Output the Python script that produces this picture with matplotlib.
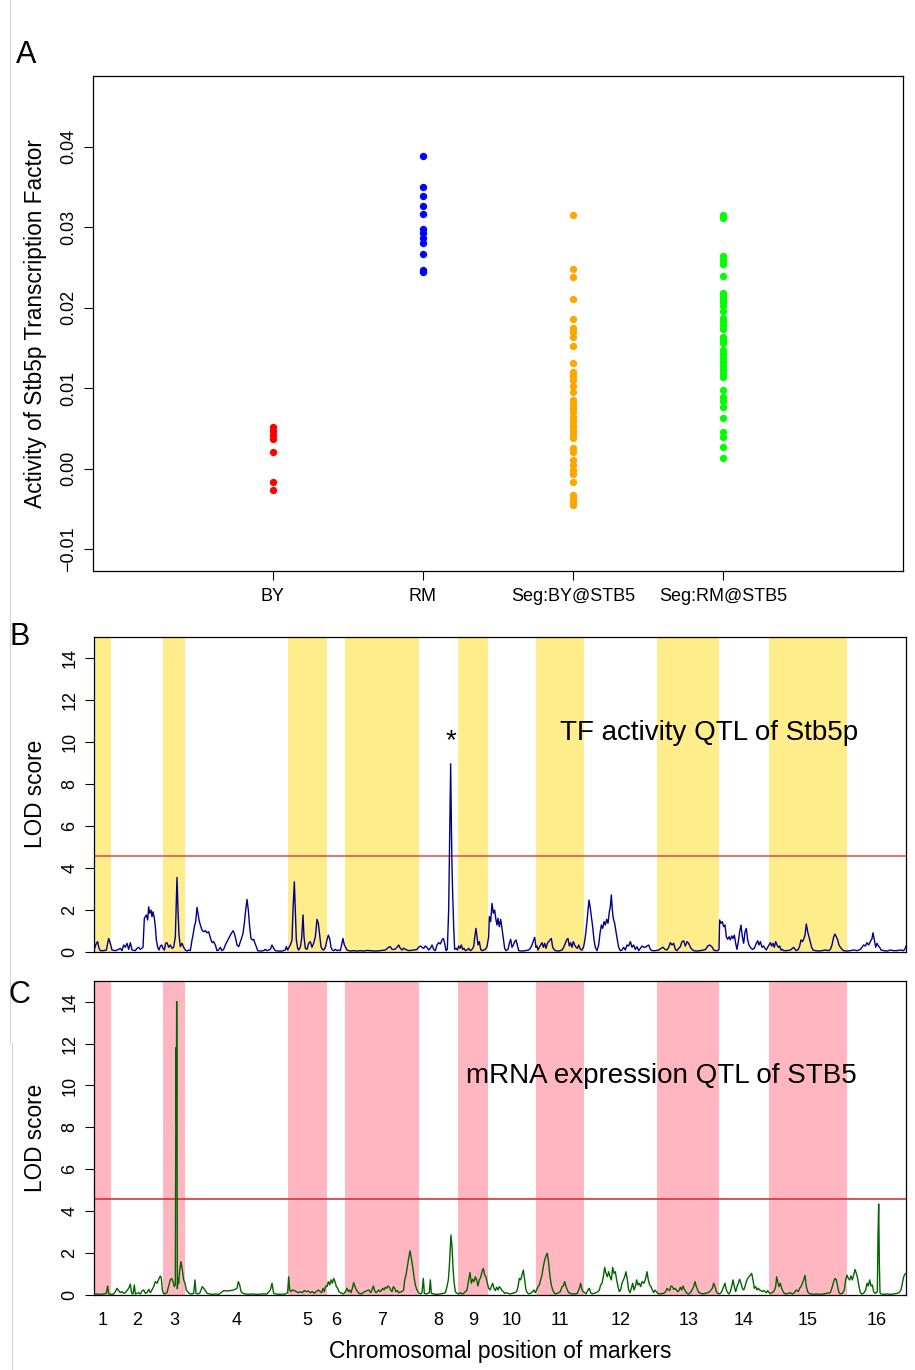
import numpy as np
import matplotlib.pyplot as plt
from matplotlib.lines import Line2D

plt.rcParams["font.family"] = ["Liberation Sans", "DejaVu Sans"]

# ---- panel A: activity of Stb5p per strain group ----
groups = ["BY", "RM", "Seg:BY@STB5", "Seg:RM@STB5"]
group_colors = ["#ff0000", "#0000ff", "#ffa500", "#00ff00"]

act_by = [0.0052, 0.0047, 0.0042, 0.0037, 0.0021, -0.0017, -0.0026]
act_rm = [0.0388, 0.0350, 0.0339, 0.0326, 0.0316, 0.0298, 0.0293, 0.0287,
          0.0280, 0.0267, 0.0247, 0.0244]
act_seg_by = [0.0315, 0.0248, 0.0238, 0.0211, 0.0186, 0.0175, 0.0170, 0.0164,
              0.0153, 0.0132, 0.0120, 0.0115, 0.0110, 0.0103, 0.0095, 0.0086,
              0.0081, 0.0075, 0.0070, 0.0064, 0.0059, 0.0053, 0.0048, 0.0043,
              0.0038, 0.0026, 0.0021, 0.0011, 0.0005, -0.0001, -0.0007, -0.0017,
              -0.0032, -0.0037, -0.0041, -0.0045]
act_seg_rm = [0.0315, 0.0311, 0.0264, 0.0259, 0.0255, 0.0240, 0.0219, 0.0215,
              0.0211, 0.0207, 0.0202, 0.0196, 0.0187, 0.0183, 0.0179, 0.0174,
              0.0164, 0.0160, 0.0156, 0.0148, 0.0143, 0.0138, 0.0133, 0.0128,
              0.0123, 0.0118, 0.0114, 0.0098, 0.0089, 0.0084, 0.0077, 0.0063,
              0.0046, 0.0040, 0.0027, 0.0014]
activity = [act_by, act_rm, act_seg_by, act_seg_rm]
act_ticks = [-0.01, 0.0, 0.01, 0.02, 0.03, 0.04]
act_ticklabels = ["\u22120.01", "0.00", "0.01", "0.02", "0.03", "0.04"]

# ---- panels B/C: genome scans (marker index, LOD) ----
chrom_sizes = [51, 157, 65, 310, 116, 55, 222, 115, 91, 145, 142, 221, 186, 148, 235, 177]
lod_threshold = 4.57

tf_qtl = [
    (1, 0.11), (7, 0.40), (11, 0.48), (15, 0.16), (19, 0.05), (29, 0.05), (37, 0.08), (44, 0.63),
    (49, 0.40), (54, 0.08), (64, 0.05), (74, 0.11), (79, 0.16), (84, 0.05), (89, 0.32), (94, 0.21),
    (99, 0.40), (104, 0.11), (109, 0.43), (114, 0.08), (124, 0.05), (129, 0.16), (134, 0.21),
    (139, 0.11), (147, 0.21), (151, 1.59), (157, 1.75), (161, 1.51), (164, 2.14), (167, 1.83),
    (171, 1.98), (174, 1.67), (177, 1.90), (181, 1.59), (184, 1.19), (187, 0.56), (191, 0.21),
    (195, 0.08), (199, 0.27), (203, 0.32), (207, 0.16), (211, 0.08), (215, 0.40), (219, 0.43),
    (224, 0.21), (229, 0.32), (234, 0.16), (239, 0.21), (244, 0.71), (247, 2.46), (249, 3.54),
    (252, 1.98), (255, 0.79), (259, 0.24), (264, 0.40), (269, 0.21), (274, 0.08), (279, 0.03),
    (284, 0.08), (289, 0.05), (294, 0.56), (297, 0.79), (301, 1.19), (305, 1.43), (309, 2.11),
    (312, 1.83), (315, 1.51), (319, 1.27), (324, 1.03), (329, 0.95), (334, 1.00), (339, 0.90),
    (344, 0.95), (347, 0.79), (351, 0.56), (355, 0.43), (359, 0.48), (364, 0.32), (369, 0.05),
    (374, 0.08), (379, 0.21), (384, 0.05), (389, 0.11), (394, 0.32), (399, 0.48), (404, 0.63),
    (409, 0.79), (417, 1.00), (421, 0.87), (425, 0.63), (429, 0.32), (434, 0.24), (441, 0.56),
    (447, 0.87), (451, 1.35), (455, 1.98), (459, 2.49), (463, 1.98), (467, 1.19), (471, 0.63),
    (475, 0.56), (479, 0.59), (483, 0.40), (487, 0.24), (491, 0.05), (499, 0.03), (509, 0.05),
    (514, 0.11), (519, 0.05), (529, 0.11), (534, 0.32), (539, 0.16), (544, 0.05), (554, 0.03),
    (564, 0.03), (574, 0.08), (577, 0.24), (581, 0.08), (585, 0.21), (589, 0.32), (594, 0.56),
    (597, 1.98), (601, 3.33), (604, 1.98), (607, 0.56), (611, 0.16), (614, 0.08), (619, 0.21),
    (623, 0.63), (627, 1.75), (630, 0.71), (634, 0.16), (639, 0.11), (644, 0.40), (649, 0.48),
    (654, 0.21), (659, 0.40), (664, 0.71), (669, 1.54), (673, 1.35), (677, 0.79), (681, 0.24),
    (685, 0.11), (689, 0.08), (694, 0.21), (699, 0.56), (703, 0.79), (707, 0.63), (711, 0.21),
    (715, 0.08), (719, 0.05), (724, 0.11), (729, 0.05), (734, 0.08), (739, 0.05), (744, 0.40),
    (747, 0.63), (751, 0.32), (755, 0.21), (759, 0.08), (769, 0.03), (779, 0.05), (789, 0.03),
    (799, 0.05), (809, 0.03), (819, 0.06), (829, 0.05), (844, 0.03), (859, 0.05), (874, 0.08),
    (884, 0.21), (889, 0.24), (894, 0.11), (902, 0.11), (909, 0.21), (914, 0.32), (919, 0.16),
    (924, 0.08), (929, 0.17), (934, 0.11), (944, 0.05), (959, 0.08), (969, 0.11), (974, 0.21),
    (979, 0.27), (984, 0.21), (989, 0.16), (994, 0.27), (999, 0.21), (1004, 0.08), (1009, 0.16),
    (1014, 0.32), (1019, 0.11), (1024, 0.05), (1029, 0.32), (1034, 0.43), (1039, 0.37),
    (1044, 0.56), (1048, 0.63), (1052, 0.40), (1056, 0.05), (1060, 0.11), (1064, 1.98),
    (1067, 5.60), (1070, 8.95), (1072, 6.20), (1074, 4.00), (1076, 2.78), (1079, 1.19),
    (1082, 0.11), (1086, 0.16), (1090, 0.08), (1094, 0.27), (1098, 0.16), (1102, 0.32),
    (1106, 0.11), (1110, 0.16), (1114, 0.05), (1119, 0.08), (1124, 0.16), (1129, 0.05),
    (1134, 0.11), (1139, 0.24), (1143, 0.79), (1146, 1.11), (1149, 0.71), (1152, 0.32),
    (1156, 0.48), (1160, 0.11), (1164, 0.05), (1169, 0.08), (1174, 0.11), (1179, 0.24),
    (1184, 0.71), (1186, 1.67), (1190, 1.43), (1194, 2.30), (1198, 1.83), (1202, 1.98),
    (1206, 1.51), (1209, 1.27), (1212, 1.59), (1216, 1.19), (1220, 1.54), (1224, 1.11),
    (1228, 0.63), (1232, 0.16), (1236, 0.05), (1242, 0.11), (1246, 0.40), (1250, 0.59),
    (1254, 0.21), (1258, 0.32), (1262, 0.48), (1266, 0.56), (1270, 0.32), (1274, 0.05),
    (1284, 0.03), (1294, 0.05), (1304, 0.08), (1309, 0.16), (1314, 0.32), (1319, 0.56),
    (1322, 0.68), (1326, 0.21), (1329, 0.27), (1332, 0.08), (1336, 0.21), (1340, 0.32),
    (1344, 0.43), (1348, 0.21), (1352, 0.40), (1356, 0.16), (1360, 0.40), (1364, 0.48),
    (1368, 0.56), (1372, 0.63), (1376, 0.21), (1380, 0.11), (1384, 0.05), (1394, 0.03),
    (1404, 0.08), (1409, 0.21), (1414, 0.40), (1418, 0.56), (1422, 0.63), (1426, 0.27),
    (1430, 0.43), (1434, 0.21), (1438, 0.48), (1442, 0.32), (1446, 0.21), (1450, 0.16),
    (1454, 0.32), (1459, 0.11), (1464, 0.08), (1469, 0.24), (1474, 0.71), (1479, 1.43),
    (1482, 1.98), (1485, 2.46), (1489, 2.06), (1492, 1.67), (1496, 1.19), (1500, 0.56),
    (1504, 0.21), (1509, 0.05), (1514, 0.32), (1518, 0.87), (1522, 1.27), (1526, 1.11),
    (1530, 1.43), (1534, 1.27), (1538, 1.54), (1542, 1.35), (1546, 1.90), (1549, 2.14),
    (1552, 2.70), (1555, 1.98), (1558, 1.59), (1562, 1.35), (1566, 0.95), (1570, 0.56),
    (1574, 0.21), (1579, 0.05), (1584, 0.08), (1589, 0.21), (1594, 0.08), (1599, 0.32),
    (1604, 0.27), (1609, 0.48), (1614, 0.21), (1619, 0.32), (1624, 0.11), (1629, 0.24),
    (1634, 0.05), (1639, 0.16), (1644, 0.27), (1650, 0.21), (1654, 0.21), (1659, 0.27),
    (1664, 0.32), (1669, 0.11), (1674, 0.05), (1684, 0.05), (1694, 0.08), (1701, 0.16),
    (1707, 0.21), (1713, 0.11), (1719, 0.08), (1724, 0.21), (1729, 0.43), (1734, 0.32),
    (1739, 0.40), (1744, 0.11), (1749, 0.05), (1754, 0.16), (1759, 0.24), (1764, 0.48),
    (1769, 0.52), (1774, 0.27), (1779, 0.48), (1784, 0.40), (1789, 0.21), (1794, 0.11),
    (1799, 0.05), (1809, 0.03), (1819, 0.05), (1829, 0.08), (1835, 0.11), (1841, 0.27),
    (1847, 0.32), (1851, 0.27), (1855, 0.21), (1859, 0.08), (1864, 0.05), (1871, 0.05),
    (1875, 0.11), (1877, 1.51), (1881, 1.35), (1885, 1.43), (1889, 1.19), (1893, 1.27),
    (1897, 0.71), (1901, 0.59), (1905, 0.71), (1909, 0.56), (1913, 0.75), (1917, 0.63),
    (1921, 0.79), (1925, 0.40), (1929, 0.11), (1933, 0.48), (1937, 0.95), (1941, 1.27),
    (1945, 0.71), (1949, 0.40), (1953, 0.95), (1957, 1.11), (1961, 0.56), (1965, 0.32),
    (1969, 0.21), (1975, 0.11), (1981, 0.16), (1987, 0.40), (1991, 0.52), (1995, 0.32),
    (1999, 0.48), (2004, 0.21), (2009, 0.27), (2013, 0.16), (2017, 0.08), (2021, 0.21),
    (2025, 0.32), (2029, 0.43), (2033, 0.27), (2037, 0.40), (2041, 0.21), (2045, 0.48),
    (2049, 0.32), (2053, 0.21), (2057, 0.27), (2061, 0.08), (2065, 0.11), (2069, 0.05),
    (2079, 0.05), (2089, 0.08), (2095, 0.16), (2099, 0.21), (2103, 0.11), (2107, 0.05),
    (2113, 0.11), (2117, 0.27), (2121, 0.56), (2125, 0.48), (2129, 0.59), (2133, 0.79),
    (2137, 1.32), (2141, 0.95), (2145, 0.71), (2149, 0.48), (2153, 0.21), (2157, 0.08),
    (2164, 0.05), (2174, 0.03), (2184, 0.05), (2194, 0.08), (2204, 0.05), (2209, 0.11),
    (2214, 0.32), (2219, 0.71), (2223, 0.84), (2227, 0.71), (2231, 0.56), (2235, 0.32),
    (2239, 0.21), (2244, 0.11), (2249, 0.05), (2259, 0.03), (2269, 0.05), (2279, 0.08),
    (2289, 0.05), (2299, 0.11), (2304, 0.21), (2309, 0.32), (2314, 0.27), (2319, 0.43),
    (2324, 0.32), (2329, 0.48), (2334, 0.63), (2337, 0.90), (2341, 0.56), (2345, 0.21),
    (2349, 0.40), (2353, 0.27), (2357, 0.21), (2361, 0.08), (2369, 0.05), (2379, 0.03),
    (2389, 0.08), (2399, 0.05), (2409, 0.05), (2419, 0.08), (2429, 0.05), (2434, 0.16),
    (2436, 0.27),
]

mrna_qtl = [
    (1, 0.03), (9, 0.05), (19, 0.03), (29, 0.05), (37, 0.08), (41, 0.43), (44, 0.05), (51, 0.03),
    (59, 0.05), (64, 0.16), (69, 0.32), (74, 0.21), (79, 0.11), (84, 0.16), (89, 0.08), (94, 0.11),
    (99, 0.21), (104, 0.32), (109, 0.52), (113, 0.08), (117, 0.05), (121, 0.48), (124, 0.05),
    (129, 0.08), (134, 0.11), (139, 0.05), (144, 0.19), (149, 0.24), (154, 0.08), (159, 0.11),
    (164, 0.27), (169, 0.11), (174, 0.24), (179, 0.40), (184, 0.64), (189, 0.56), (194, 0.75),
    (199, 0.91), (202, 0.79), (205, 0.24), (209, 0.05), (214, 0.08), (219, 0.11), (224, 0.43),
    (229, 0.72), (233, 0.79), (237, 0.64), (241, 0.40), (244, 0.50), (246, 11.80), (247, 8.20),
    (248, 14.00), (249, 11.10), (250, 0.30), (252, 0.80), (254, 0.56), (257, 1.19), (261, 1.59),
    (265, 1.19), (269, 0.72), (273, 0.56), (277, 0.24), (281, 0.16), (285, 0.08), (289, 0.05),
    (294, 0.05), (299, 0.08), (303, 0.72), (306, 0.08), (311, 0.05), (317, 0.08), (321, 0.24),
    (325, 0.40), (329, 0.32), (334, 0.21), (339, 0.08), (347, 0.05), (354, 0.03), (364, 0.05),
    (374, 0.03), (384, 0.14), (389, 0.21), (399, 0.19), (409, 0.21), (419, 0.24), (429, 0.32),
    (433, 0.64), (437, 0.48), (441, 0.16), (447, 0.08), (454, 0.05), (464, 0.03), (474, 0.05),
    (489, 0.03), (504, 0.05), (519, 0.05), (529, 0.24), (534, 0.56), (539, 0.08), (544, 0.05),
    (559, 0.03), (574, 0.05), (581, 0.11), (584, 0.87), (587, 0.24), (591, 0.16), (595, 0.24),
    (601, 0.21), (607, 0.16), (613, 0.11), (619, 0.16), (625, 0.11), (631, 0.21), (637, 0.16),
    (643, 0.19), (649, 0.11), (655, 0.16), (661, 0.08), (667, 0.16), (673, 0.24), (679, 0.16),
    (683, 0.11), (687, 0.32), (691, 0.16), (695, 0.43), (699, 0.40), (703, 0.64), (707, 0.48),
    (711, 0.72), (715, 0.56), (719, 0.79), (723, 0.64), (727, 0.40), (731, 0.32), (735, 0.16),
    (739, 0.11), (744, 0.08), (749, 0.05), (754, 0.16), (759, 0.32), (763, 0.16), (767, 0.24),
    (771, 0.11), (775, 0.32), (779, 0.59), (783, 0.40), (787, 0.24), (791, 0.16), (795, 0.08),
    (801, 0.05), (807, 0.11), (813, 0.16), (819, 0.21), (825, 0.24), (830, 0.11), (834, 0.24),
    (838, 0.43), (842, 0.21), (846, 0.11), (850, 0.16), (854, 0.24), (858, 0.16), (862, 0.21),
    (866, 0.32), (870, 0.24), (874, 0.37), (878, 0.32), (882, 0.43), (886, 0.37), (890, 0.24),
    (894, 0.16), (898, 0.40), (902, 0.32), (906, 0.16), (910, 0.21), (914, 0.11), (919, 0.14),
    (924, 0.16), (929, 0.24), (932, 0.72), (936, 0.95), (940, 1.35), (944, 1.75), (948, 2.11),
    (952, 1.75), (956, 1.35), (960, 0.87), (964, 0.48), (968, 0.27), (972, 0.16), (976, 0.08),
    (980, 0.05), (984, 0.11), (988, 0.79), (991, 0.08), (996, 0.05), (1002, 0.08), (1006, 0.11),
    (1009, 0.72), (1012, 0.08), (1019, 0.05), (1029, 0.03), (1039, 0.05), (1049, 0.08),
    (1054, 0.11), (1059, 0.40), (1063, 0.72), (1066, 1.35), (1069, 2.31), (1071, 2.86),
    (1074, 2.31), (1077, 1.32), (1080, 0.64), (1084, 0.16), (1089, 0.08), (1094, 0.05),
    (1099, 0.11), (1104, 0.05), (1109, 0.08), (1114, 0.16), (1119, 0.24), (1124, 0.72),
    (1128, 1.07), (1132, 0.56), (1136, 0.75), (1140, 0.64), (1144, 0.87), (1148, 0.72),
    (1152, 0.43), (1156, 0.72), (1160, 0.84), (1164, 1.11), (1168, 1.27), (1172, 0.95),
    (1176, 0.87), (1180, 0.56), (1184, 0.32), (1188, 0.24), (1192, 0.40), (1196, 0.56),
    (1200, 0.32), (1204, 0.21), (1208, 0.37), (1212, 0.24), (1216, 0.40), (1220, 0.32),
    (1224, 0.21), (1228, 0.16), (1232, 0.08), (1236, 0.11), (1242, 0.08), (1249, 0.05),
    (1256, 0.08), (1262, 0.11), (1268, 0.16), (1272, 0.40), (1276, 0.79), (1280, 0.72),
    (1284, 0.95), (1288, 1.19), (1292, 0.72), (1296, 0.24), (1300, 0.11), (1304, 0.05),
    (1310, 0.08), (1316, 0.16), (1320, 0.24), (1324, 0.11), (1328, 0.24), (1332, 0.40),
    (1336, 0.48), (1340, 0.72), (1344, 0.95), (1348, 1.35), (1352, 1.67), (1356, 1.86),
    (1360, 1.99), (1364, 1.51), (1368, 0.87), (1372, 0.48), (1376, 0.24), (1380, 0.11),
    (1384, 0.05), (1389, 0.08), (1394, 0.11), (1399, 0.16), (1404, 0.40), (1408, 0.43),
    (1412, 0.64), (1416, 0.40), (1420, 0.24), (1424, 0.11), (1429, 0.08), (1434, 0.05),
    (1442, 0.05), (1450, 0.08), (1456, 0.32), (1460, 0.56), (1464, 0.24), (1468, 0.16),
    (1472, 0.11), (1476, 0.05), (1482, 0.24), (1486, 0.32), (1490, 0.11), (1494, 0.05),
    (1500, 0.08), (1506, 0.11), (1512, 0.16), (1516, 0.24), (1520, 0.48), (1524, 0.56),
    (1528, 0.87), (1532, 1.32), (1536, 1.03), (1540, 0.87), (1544, 1.11), (1548, 0.87),
    (1552, 0.72), (1556, 1.32), (1560, 1.03), (1564, 1.11), (1568, 0.72), (1572, 0.40),
    (1576, 0.16), (1580, 0.24), (1584, 0.56), (1588, 0.72), (1592, 0.87), (1596, 1.11),
    (1600, 0.72), (1604, 0.24), (1608, 0.11), (1612, 0.32), (1616, 0.56), (1620, 0.24),
    (1624, 0.40), (1628, 0.72), (1632, 0.48), (1636, 0.56), (1640, 0.40), (1644, 0.64),
    (1650, 0.56), (1655, 0.79), (1659, 1.11), (1663, 0.72), (1667, 0.48), (1671, 0.40),
    (1675, 0.24), (1679, 0.11), (1683, 0.24), (1687, 0.16), (1691, 0.08), (1699, 0.05),
    (1709, 0.08), (1715, 0.16), (1719, 0.32), (1723, 0.24), (1727, 0.21), (1731, 0.43),
    (1735, 0.40), (1739, 0.27), (1743, 0.32), (1747, 0.24), (1751, 0.16), (1755, 0.21),
    (1759, 0.37), (1763, 0.24), (1767, 0.43), (1771, 0.27), (1775, 0.16), (1779, 0.08),
    (1784, 0.05), (1789, 0.11), (1794, 0.24), (1799, 0.40), (1803, 0.64), (1807, 0.40),
    (1811, 0.24), (1815, 0.11), (1821, 0.08), (1827, 0.05), (1834, 0.08), (1841, 0.11),
    (1847, 0.16), (1851, 0.24), (1855, 0.32), (1859, 0.56), (1863, 0.40), (1867, 0.16),
    (1871, 0.08), (1877, 0.05), (1881, 0.11), (1885, 0.24), (1889, 0.40), (1893, 0.56),
    (1897, 0.24), (1901, 0.11), (1905, 0.05), (1909, 0.16), (1913, 0.40), (1917, 0.72),
    (1921, 0.40), (1925, 0.16), (1929, 0.40), (1933, 0.56), (1937, 0.75), (1941, 0.56),
    (1945, 0.32), (1949, 0.24), (1953, 0.40), (1957, 0.64), (1961, 0.79), (1965, 0.87),
    (1969, 0.95), (1973, 1.03), (1977, 0.72), (1981, 0.32), (1985, 0.40), (1989, 0.24),
    (1993, 0.32), (1997, 0.24), (2001, 0.21), (2005, 0.16), (2009, 0.21), (2013, 0.16),
    (2017, 0.11), (2021, 0.21), (2025, 0.11), (2029, 0.08), (2035, 0.11), (2041, 0.21),
    (2045, 0.40), (2048, 0.87), (2051, 0.64), (2055, 0.40), (2059, 0.56), (2063, 0.32),
    (2067, 0.16), (2071, 0.08), (2077, 0.05), (2083, 0.08), (2089, 0.11), (2095, 0.05),
    (2101, 0.11), (2107, 0.24), (2113, 0.16), (2117, 0.32), (2121, 0.40), (2125, 0.56),
    (2129, 0.72), (2133, 0.94), (2137, 0.40), (2141, 0.16), (2145, 0.08), (2151, 0.05),
    (2159, 0.03), (2169, 0.05), (2179, 0.03), (2189, 0.05), (2199, 0.08), (2209, 0.11),
    (2215, 0.40), (2219, 0.64), (2223, 0.79), (2227, 0.72), (2231, 0.40), (2235, 0.11),
    (2239, 0.05), (2245, 0.08), (2251, 0.24), (2255, 0.72), (2259, 0.95), (2263, 0.79),
    (2267, 0.72), (2271, 0.91), (2275, 0.72), (2279, 0.95), (2283, 1.22), (2287, 1.03),
    (2291, 0.79), (2295, 0.40), (2299, 0.11), (2303, 0.05), (2309, 0.08), (2315, 0.24),
    (2319, 0.56), (2323, 0.43), (2327, 0.72), (2331, 0.43), (2335, 0.48), (2339, 0.16),
    (2343, 0.08), (2347, 0.11), (2350, 0.16), (2352, 2.75), (2354, 4.34), (2356, 1.51),
    (2358, 0.11), (2361, 0.05), (2369, 0.03), (2379, 0.05), (2389, 0.03), (2399, 0.05),
    (2409, 0.08), (2415, 0.11), (2421, 0.24), (2425, 0.56), (2429, 0.87), (2433, 1.00),
    (2436, 1.03),
]

lod_ticks = [0, 2, 4, 6, 8, 10, 12, 14]

W, H = 915, 1370
fig = plt.figure(figsize=(W / 100, H / 100), dpi=100)


def box(left, top, right, bottom):
    return [left / W, 1 - bottom / H, (right - left) / W, (bottom - top) / H]


def style_frame(ax):
    for sp in ax.spines.values():
        sp.set_linewidth(0.9)
        sp.set_color("black")


def rotated_yticks(ax, ticks, labels):
    ax.set_yticks(ticks)
    ax.set_yticklabels(labels, rotation=90, va="center", ha="center")
    ax.tick_params(axis="y", direction="out", length=6.3, width=0.8, pad=11, labelsize=13)


# panel A
ax_a = fig.add_axes(box(93, 76, 903, 571))
for i, (vals, col) in enumerate(zip(activity, group_colors)):
    ax_a.plot(np.full(len(vals), i + 1), vals, "o", ms=5.3, mew=0, color=col)
ax_a.set_xlim(-0.2, 5.2)
ax_a.set_ylim(-0.0127, 0.0488)
ax_a.set_xticks(range(1, 5))
ax_a.set_xticklabels(groups)
ax_a.tick_params(axis="x", direction="out", length=6.3, width=0.8, pad=6, labelsize=13)
rotated_yticks(ax_a, act_ticks, act_ticklabels)
ax_a.set_ylabel("Activity of Stb5p Transcription Factor", fontsize=16.3, va="center")
ax_a.yaxis.set_label_coords((36 - 93) / 810, 0.5)
style_frame(ax_a)

# chromosome boundaries in marker index
chrom_end = np.cumsum(chrom_sizes)
chrom_start = chrom_end - np.array(chrom_sizes)
chrom_mid = chrom_start + np.array(chrom_sizes) / 2
n_markers = chrom_end[-1]


def scan_panel(rect, qtl, band_color, line_color, thr_color):
    ax = fig.add_axes(rect)
    for k in range(0, len(chrom_sizes), 2):
        ax.axvspan(chrom_start[k], chrom_end[k], color=band_color, lw=0, zorder=0)
    ax.axhline(lod_threshold, color=thr_color, lw=1.1, zorder=2)
    pos, lod = np.array(qtl).T
    ax.plot(pos, lod, color=line_color, lw=1.0, zorder=3)
    ax.set_xlim(0, n_markers)
    ax.set_ylim(0, 15)
    rotated_yticks(ax, lod_ticks, [str(t) for t in lod_ticks])
    ax.set_ylabel("LOD score", fontsize=16.3, va="center")
    ax.yaxis.set_label_coords((35.5 - 94) / 812, 0.5)
    style_frame(ax)
    return ax


# panel B
ax_b = scan_panel(box(94, 636.7, 906, 951.7), tf_qtl, "#ffec8b", "#00008b", "#e04848")
ax_b.set_xticks([])
peak = max(tf_qtl, key=lambda p: p[1])
ax_b.text(peak[0] + 1, peak[1] + 0.45, "*", fontsize=20, ha="center", va="bottom")
ax_b.text(1844, 10.1, "TF activity QTL of Stb5p", fontsize=20, ha="center", va="baseline")

# panel C
ax_c = scan_panel(box(94, 980.7, 906, 1295), mrna_qtl, "#ffb6c1", "#006400", "#d02828")
ax_c.set_xticks(chrom_mid)
ax_c.set_xticklabels([str(i + 1) for i in range(len(chrom_sizes))])
ax_c.tick_params(axis="x", length=0, pad=12, labelsize=13)
ax_c.set_xlabel("Chromosomal position of markers", fontsize=16.5, labelpad=8)
ax_c.text(1703, 10.1, "mRNA expression QTL of STB5", fontsize=20, ha="center", va="baseline")

# panel letters
fig.text(26 / W, 1 - 55 / H, "A", fontsize=22, ha="center", va="center")
fig.text(20 / W, 1 - 637 / H, "B", fontsize=22, ha="center", va="center")
fig.text(19 / W, 1 - 995 / H, "C", fontsize=22, ha="center", va="center")

# thin grey page edge on the left
fig.add_artist(Line2D([10 / W, 10 / W], [1, 1 - 1043 / H], color="#d4d4d4", lw=0.8))
fig.add_artist(Line2D([12 / W, 12 / W], [1 - 1043 / H, 0], color="#d4d4d4", lw=0.8))

fig.savefig("out.png", dpi=100)
